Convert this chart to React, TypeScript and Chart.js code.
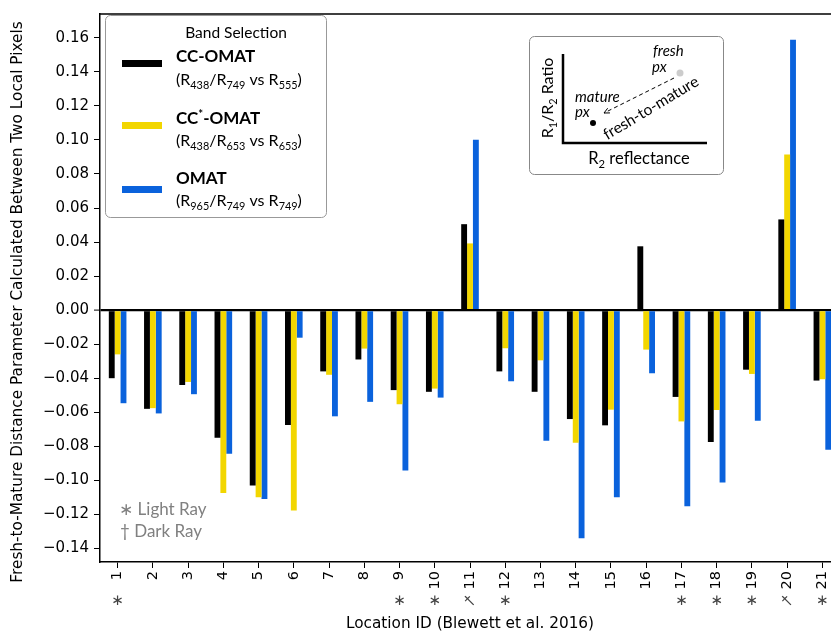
import React, { useEffect, useRef } from 'react';
import { Chart, registerables } from 'chart.js';

Chart.register(...registerables);

// ---------------- data ----------------
const categories = ['1', '2', '3', '4', '5', '6', '7', '8', '9', '10', '11', '12', '13', '14', '15', '16', '17', '18', '19', '20', '21'];
const ccOmat = [-0.040, -0.058, -0.044, -0.075, -0.103, -0.0675, -0.036, -0.029, -0.047, -0.048, 0.0505, -0.036, -0.048, -0.064, -0.0677, 0.0375, -0.051, -0.0775, -0.035, 0.0533, -0.0414];
const ccStarOmat = [-0.026, -0.0576, -0.0422, -0.1074, -0.110, -0.1177, -0.038, -0.0226, -0.0553, -0.0461, 0.0392, -0.0224, -0.0295, -0.078, -0.0585, -0.0232, -0.0654, -0.0587, -0.0375, 0.0915, -0.0406];
const omat = [-0.0547, -0.0607, -0.0494, -0.0844, -0.111, -0.0162, -0.0624, -0.0539, -0.0942, -0.0514, 0.1001, -0.0418, -0.0767, -0.134, -0.110, -0.0371, -0.1153, -0.1013, -0.065, 0.1588, -0.082];
const rayMarkers = ['*', '', '', '', '', '', '', '', '*', '*', '†', '*', '', '', '', '', '*', '*', '*', '†', '*'];
const yTicks = [-0.14, -0.12, -0.10, -0.08, -0.06, -0.04, -0.02, 0.0, 0.02, 0.04, 0.06, 0.08, 0.10, 0.12, 0.14, 0.16];
const yMin = -0.148;
const yMax = 0.174;

const seriesColors = ['#000000', '#f2d600', '#0a62dc'];
const seriesLabels = ['CC-OMAT', 'CC*-OMAT', 'OMAT'];
const yTitle = 'Fresh-to-Mature Distance Parameter Calculated Between Two Local Pixels';
const xTitle = 'Location ID (Blewett et al. 2016)';

type Seg = { t: string; sub?: boolean; sup?: boolean };
const legendNames: Seg[][] = [
  [{ t: 'CC-OMAT' }],
  [{ t: 'CC' }, { t: '*', sup: true }, { t: '-OMAT' }],
  [{ t: 'OMAT' }],
];
const legendBands: Seg[][] = [
  [{ t: '(R' }, { t: '438', sub: true }, { t: '/R' }, { t: '749', sub: true }, { t: ' vs R' }, { t: '555', sub: true }, { t: ')' }],
  [{ t: '(R' }, { t: '438', sub: true }, { t: '/R' }, { t: '653', sub: true }, { t: ' vs R' }, { t: '653', sub: true }, { t: ')' }],
  [{ t: '(R' }, { t: '965', sub: true }, { t: '/R' }, { t: '749', sub: true }, { t: ' vs R' }, { t: '749', sub: true }, { t: ')' }],
];

const FONT = 'Lato, "DejaVu Sans", sans-serif';
const TICKFONT = '"DejaVu Sans", sans-serif';

function richWidth(ctx: CanvasRenderingContext2D, segs: Seg[], size: number, weight: string, style = 'normal') {
  let w = 0;
  for (const s of segs) {
    const sz = s.sub || s.sup ? size * 0.68 : size;
    ctx.font = `${style} ${weight} ${sz}px ${FONT}`;
    w += ctx.measureText(s.t).width;
  }
  return w;
}

function drawRich(ctx: CanvasRenderingContext2D, segs: Seg[], x: number, y: number, size: number, weight: string, color: string, style = 'normal') {
  let cx = x;
  ctx.fillStyle = color;
  ctx.textBaseline = 'middle';
  ctx.textAlign = 'left';
  for (const s of segs) {
    if (s.sub || s.sup) {
      ctx.font = `${style} ${weight} ${size * 0.68}px ${FONT}`;
      ctx.fillText(s.t, cx, y + (s.sub ? size * 0.32 : -size * 0.3));
    } else {
      ctx.font = `${style} ${weight} ${size}px ${FONT}`;
      ctx.fillText(s.t, cx, y);
    }
    cx += ctx.measureText(s.t).width;
  }
}

function roundRect(ctx: CanvasRenderingContext2D, x: number, y: number, w: number, h: number, r: number) {
  ctx.beginPath();
  ctx.moveTo(x + r, y);
  ctx.lineTo(x + w - r, y);
  ctx.arcTo(x + w, y, x + w, y + r, r);
  ctx.lineTo(x + w, y + h - r);
  ctx.arcTo(x + w, y + h, x + w - r, y + h, r);
  ctx.lineTo(x + r, y + h);
  ctx.arcTo(x, y + h, x, y + h - r, r);
  ctx.lineTo(x, y + r);
  ctx.arcTo(x, y, x + r, y, r);
  ctx.closePath();
}

const framePlugin = {
  id: 'frame',
  afterDatasetsDraw(chart: any) {
    const { ctx, chartArea } = chart;
    ctx.save();
    ctx.strokeStyle = '#000';
    ctx.lineWidth = 1.5;
    ctx.beginPath();
    ctx.moveTo(chartArea.left, chartArea.top);
    ctx.lineTo(chartArea.right, chartArea.top);
    ctx.lineTo(chartArea.right, chartArea.bottom);
    ctx.stroke();
    ctx.restore();
  },
};

const yTitlePlugin = {
  id: 'ytitle',
  afterDraw(chart: any) {
    const { ctx } = chart;
    ctx.save();
    ctx.translate(18, 302);
    ctx.rotate(-Math.PI / 2);
    ctx.font = `15.3px ${TICKFONT}`;
    ctx.fillStyle = '#000';
    ctx.textAlign = 'center';
    ctx.textBaseline = 'middle';
    ctx.fillText(yTitle, 0, 0);
    ctx.restore();
  },
};

const markerPlugin = {
  id: 'markers',
  afterDraw(chart: any) {
    const { ctx } = chart;
    const xs = chart.scales.x;
    ctx.save();
    ctx.fillStyle = '#444';
    ctx.textAlign = 'center';
    ctx.textBaseline = 'middle';
    rayMarkers.forEach((m, i) => {
      if (!m) return;
      const x = xs.getPixelForValue(i);
      const y = 601;
      ctx.save();
      ctx.translate(x, y);
      if (m === '†') {
        ctx.rotate(-Math.PI / 4);
        ctx.font = `15px ${TICKFONT}`;
        ctx.fillText(m, 0, 0);
      } else {
        ctx.font = `15px ${TICKFONT}`;
        ctx.fillText('∗', 0, 0);
      }
      ctx.restore();
    });
    ctx.restore();
  },
};

const annotationPlugin = {
  id: 'annotations',
  afterDraw(chart: any) {
    const { ctx } = chart;
    ctx.save();
    // ---- legend ----
    roundRect(ctx, 105.5, 15.5, 221, 202, 5);
    ctx.fillStyle = '#fff';
    ctx.fill();
    ctx.strokeStyle = '#999';
    ctx.lineWidth = 1;
    ctx.stroke();
    ctx.fillStyle = '#000';
    ctx.font = `normal 15.5px ${FONT}`;
    ctx.textAlign = 'center';
    ctx.textBaseline = 'middle';
    ctx.fillText('Band Selection', 236, 33);
    const swY = [63.5, 125.5, 189.5];
    const nameY = [57, 119, 179];
    const bandY = [80, 141, 201];
    for (let i = 0; i < 3; i++) {
      ctx.fillStyle = seriesColors[i];
      ctx.fillRect(122, swY[i] - 3.5, 40, 7);
      drawRich(ctx, legendNames[i], 176, nameY[i], 17, 'bold', '#000');
      drawRich(ctx, legendBands[i], 176, bandY[i], 16, 'normal', '#000');
    }

    // ---- inset ----
    roundRect(ctx, 529.5, 36.5, 194, 138, 5);
    ctx.fillStyle = '#fff';
    ctx.fill();
    ctx.strokeStyle = '#888';
    ctx.lineWidth = 1;
    ctx.stroke();
    ctx.strokeStyle = '#000';
    ctx.lineWidth = 2.5;
    ctx.beginPath();
    ctx.moveTo(563, 54);
    ctx.lineTo(563, 143);
    ctx.lineTo(707, 143);
    ctx.stroke();
    ctx.save();
    ctx.translate(548, 98);
    ctx.rotate(-Math.PI / 2);
    const ySegs: Seg[] = [{ t: 'R' }, { t: '1', sub: true }, { t: '/R' }, { t: '2', sub: true }, { t: ' Ratio' }];
    const yw = richWidth(ctx, ySegs, 16, 'normal');
    drawRich(ctx, ySegs, -yw / 2, 0, 16, 'normal', '#000');
    ctx.restore();
    const xSegs: Seg[] = [{ t: 'R' }, { t: '2', sub: true }, { t: ' reflectance' }];
    const xw = richWidth(ctx, xSegs, 16.5, 'normal');
    drawRich(ctx, xSegs, 639 - xw / 2, 159, 16.5, 'normal', '#000');
    drawRich(ctx, [{ t: 'fresh' }], 653, 51, 15, 'normal', '#000', 'italic');
    drawRich(ctx, [{ t: 'px' }], 652, 67, 15, 'normal', '#000', 'italic');
    drawRich(ctx, [{ t: 'mature' }], 575, 97, 15, 'normal', '#000', 'italic');
    drawRich(ctx, [{ t: 'px' }], 575, 112, 15, 'normal', '#000', 'italic');
    ctx.fillStyle = '#cccccc';
    ctx.beginPath();
    ctx.arc(680, 73, 3.5, 0, Math.PI * 2);
    ctx.fill();
    ctx.fillStyle = '#000';
    ctx.beginPath();
    ctx.arc(593, 123, 3, 0, Math.PI * 2);
    ctx.fill();
    const ax0 = 674, ay0 = 78, ax1 = 604, ay1 = 113;
    ctx.strokeStyle = '#000';
    ctx.lineWidth = 1;
    ctx.setLineDash([4, 3]);
    ctx.beginPath();
    ctx.moveTo(ax0, ay0);
    ctx.lineTo(ax1, ay1);
    ctx.stroke();
    ctx.setLineDash([]);
    const ang = Math.atan2(ay1 - ay0, ax1 - ax0);
    ctx.beginPath();
    ctx.moveTo(ax1 - 6 * Math.cos(ang - 0.45), ay1 - 6 * Math.sin(ang - 0.45));
    ctx.lineTo(ax1, ay1);
    ctx.lineTo(ax1 - 6 * Math.cos(ang + 0.45), ay1 - 6 * Math.sin(ang + 0.45));
    ctx.stroke();
    ctx.save();
    ctx.translate(651, 108);
    ctx.rotate(-31 * Math.PI / 180);
    ctx.font = `normal 15.5px ${FONT}`;
    ctx.fillStyle = '#000';
    ctx.textAlign = 'center';
    ctx.textBaseline = 'middle';
    ctx.fillText('fresh-to-mature', 0, 0);
    ctx.restore();

    // ---- ray note ----
    ctx.fillStyle = '#808080';
    ctx.font = `normal 17px ${FONT}`;
    ctx.textAlign = 'left';
    ctx.textBaseline = 'middle';
    ctx.fillText('∗ Light Ray', 119, 510);
    ctx.fillText('† Dark Ray', 120, 532);
    ctx.restore();
  },
};

export default function App() {
  const ref = useRef<HTMLCanvasElement | null>(null);
  useEffect(() => {
    if (!ref.current) return;
    const chart = new Chart(ref.current, {
      type: 'bar',
      data: {
        labels: categories,
        datasets: [
          { label: seriesLabels[0], data: ccOmat, backgroundColor: seriesColors[0], borderWidth: 0 },
          { label: seriesLabels[1], data: ccStarOmat, backgroundColor: seriesColors[1], borderWidth: 0 },
          { label: seriesLabels[2], data: omat, backgroundColor: seriesColors[2], borderWidth: 0 },
        ],
      },
      options: {
        animation: false,
        responsive: true,
        maintainAspectRatio: false,
        devicePixelRatio: 1,
        layout: { padding: { top: 10, right: 10, left: 0, bottom: 0 } },
        datasets: { bar: { categoryPercentage: 0.5, barPercentage: 1.0 } },
        plugins: { legend: { display: false }, tooltip: { enabled: false } },
        scales: {
          x: {
            type: 'category',
            offset: true,
            grid: { display: true, offset: false, drawOnChartArea: false, drawTicks: true, tickLength: 6, color: '#000', tickColor: '#000', lineWidth: 1 },
            border: { display: true, color: '#000', width: 1.5 },
            ticks: { minRotation: 90, maxRotation: 90, autoSkip: false, padding: 3, color: '#000', font: { family: TICKFONT, size: 14.5 } },
            title: { display: true, text: xTitle, color: '#000', font: { family: TICKFONT, size: 15.3 }, padding: { top: 0, bottom: 3 } },
            afterFit: (s: any) => { s.height = 74; },
          },
          y: {
            type: 'linear',
            min: yMin,
            max: yMax,
            afterBuildTicks: (s: any) => { s.ticks = yTicks.map((v) => ({ value: v })); },
            ticks: {
              padding: 5,
              color: '#000',
              font: { family: TICKFONT, size: 15 },
              callback: (v: any) => {
                const n = Number(v);
                return (n < -1e-9 ? '−' : '') + Math.abs(n).toFixed(2);
              },
            },
            grid: {
              drawOnChartArea: true,
              drawTicks: true,
              tickLength: 6,
              tickColor: '#000',
              tickWidth: 1,
              color: (c: any) => (c.tick && Math.abs(c.tick.value) < 1e-9 ? '#000' : 'rgba(0,0,0,0)'),
              lineWidth: (c: any) => (c.tick && Math.abs(c.tick.value) < 1e-9 ? 2.2 : 1),
            },
            border: { display: true, color: '#000', width: 1.5 },
            title: { display: false },
            afterFit: (s: any) => { s.width = 100; },
          },
        },
      },
      plugins: [framePlugin, markerPlugin, annotationPlugin, yTitlePlugin],
    } as any);
    return () => chart.destroy();
  }, []);
  return (
    <div style={{ position: 'fixed', left: 0, top: 0, width: 831, height: 636, overflow: 'hidden', background: '#fff' }}>
      <div style={{ position: 'relative', width: 850, height: 636 }}>
        <canvas ref={ref} />
      </div>
    </div>
  );
}
